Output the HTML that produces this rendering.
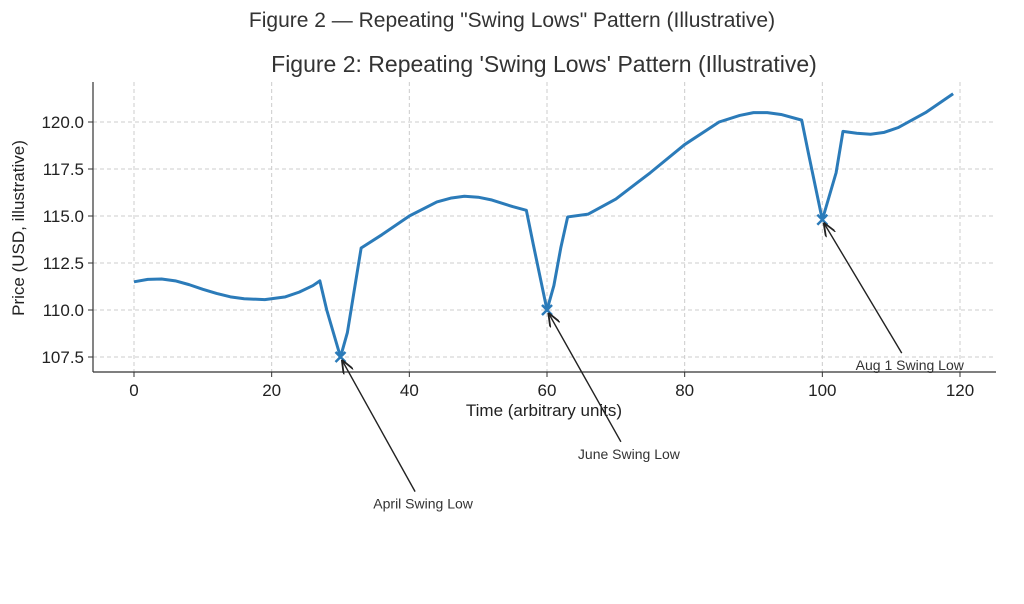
<!DOCTYPE html>
<html><head><meta charset="utf-8"><style>
body{margin:0;background:#fff;font-family:"Liberation Sans","DejaVu Sans",sans-serif;}
svg{display:block}
</style></head><body>
<svg id="chart" width="1024" height="604" xmlns="http://www.w3.org/2000/svg">
<rect width="1024" height="604" fill="#fff"/>
<text x="512" y="27" text-anchor="middle" font-size="21" fill="#333">Figure 2 — Repeating "Swing Lows" Pattern (Illustrative)</text>
<text x="544" y="72" text-anchor="middle" font-size="23" fill="#333">Figure 2: Repeating 'Swing Lows' Pattern (Illustrative)</text>
<g id="grid"></g><g id="axes"></g><g id="series"></g><g id="ann"></g>
<text x="544" y="416" text-anchor="middle" font-size="17" fill="#222">Time (arbitrary units)</text>
<text transform="translate(24,228) rotate(-90)" text-anchor="middle" font-size="17" fill="#222">Price (USD, illustrative)</text>
</svg>
<script>
const xs=[0,2,4,6,8,10,12,14,16,19,22,24,26,27,28,30,31,33,36,40,44,46,48,50,52,55,57,58,60,61,62,63,66,70,75,80,85,88,90,92,94,97,98,100,102,103,105,107,109,111,115,119];
const ys=[111.5,111.63,111.65,111.55,111.35,111.1,110.88,110.7,110.6,110.55,110.7,110.95,111.3,111.55,110,107.5,108.8,113.3,114.0,115.0,115.75,115.95,116.05,116.0,115.85,115.5,115.3,113.5,110.0,111.3,113.3,114.95,115.1,115.9,117.3,118.8,120.0,120.35,120.5,120.5,120.4,120.1,118.3,114.8,117.3,119.5,119.4,119.35,119.45,119.7,120.5,121.5];
const xTicks=[0,20,40,60,80,100,120];
const yTicks=[107.5,110.0,112.5,115.0,117.5,120.0];
const lowX=[30,60,100];
const lowY=[107.5,110.0,114.8];
const lowLabels=["April Swing Low","June Swing Low","Aug 1 Swing Low"];
const labelX=[42,71.9,112.7];
const labelY=[99.7,102.35,107.07];
const NS="http://www.w3.org/2000/svg";
const L=93,R=996,T=82,B=372;
const X=v=>134+v*(960-134)/120;
const Y=v=>357-(v-107.5)*(357-122)/12.5;
function mk(tag,attrs,parent){const e=document.createElementNS(NS,tag);for(const k in attrs)e.setAttribute(k,attrs[k]);document.getElementById(parent).appendChild(e);return e;}
xTicks.forEach(t=>{
 const g=mk('line',{x1:X(t),x2:X(t),y1:T,y2:B,stroke:'#ccc','stroke-dasharray':'4,3','stroke-width':1},'grid');
 
 
 const tk=mk('line',{x1:X(t),x2:X(t),y1:B,y2:B+5,stroke:'#333'},'axes');
 
 
 const tx=mk('text',{x:X(t),y:B+24,'text-anchor':'middle','font-size':17,fill:'#222'},'axes');
 tx.textContent=t;
 
 
});
yTicks.forEach(t=>{
 const g=mk('line',{x1:L,x2:R,y1:Y(t),y2:Y(t),stroke:'#ccc','stroke-dasharray':'4,3','stroke-width':1},'grid');
 
 
 const tk=mk('line',{x1:L-5,x2:L,y1:Y(t),y2:Y(t),stroke:'#333'},'axes');
 
 
 const tx=mk('text',{x:L-9,y:Y(t)+6,'text-anchor':'end','font-size':17,fill:'#222'},'axes');
 tx.textContent=t.toFixed(1);
 
 
});
const ax1=mk('line',{x1:L,x2:L,y1:T,y2:B,stroke:'#333','stroke-width':1.2},'axes');


const ax2=mk('line',{x1:L,x2:R,y1:B,y2:B,stroke:'#333','stroke-width':1.2},'axes');


const p=mk('path',{d:xs.map((x,i)=>(i?'L':'M')+X(x)+','+Y(ys[i])).join(''),fill:'none',stroke:'#2b7bb9','stroke-width':3,'stroke-linejoin':'round'},'series');


mk('defs',{},'ann').innerHTML='<marker id="ah" markerWidth="10" markerHeight="8" refX="9" refY="4" orient="auto"><path d="M0,0L10,4L0,8" fill="none" stroke="#222" stroke-width="1.3"/></marker>';
lowX.forEach((lx,i)=>{
 const cx=X(lx),cy=Y(lowY[i]);
 const m=mk('path',{d:`M${cx-5},${cy-5}L${cx+5},${cy+5}M${cx-5},${cy+5}L${cx+5},${cy-5}`,stroke:'#2b7bb9','stroke-width':2.5},'ann');
 
 
 const tx=X(labelX[i]),ty=Y(labelY[i]);
 const a=mk('line',{x1:tx-8,y1:ty-12,x2:cx+2,y2:cy+4,stroke:'#222','stroke-width':1.4,'marker-end':'url(#ah)'},'ann');
 
 
 const t=mk('text',{x:tx,y:ty+5,'text-anchor':'middle','font-size':14,fill:'#333'},'ann');
 t.textContent=lowLabels[i];
 
 
});
</script>
</body></html>
